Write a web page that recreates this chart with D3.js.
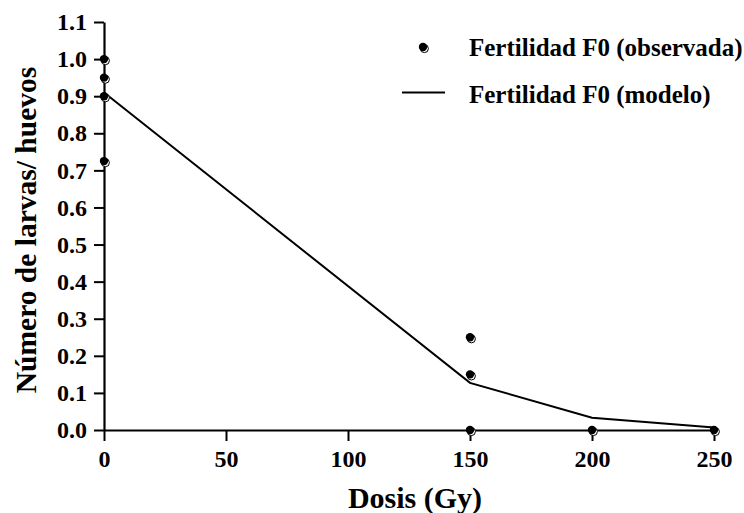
<!DOCTYPE html>
<html>
<head>
<meta charset="utf-8">
<script src="https://cdn.jsdelivr.net/npm/d3@7"></script>
<style>
  html, body { margin: 0; padding: 0; background: #fff; }
</style>
</head>
<body>
<svg id="chart" width="744" height="513"></svg>
<script>
// Observed fertility (larvae / eggs) per dose
const obsDose  = [0, 0, 0, 0, 150, 150, 150, 200, 250];
const obsValue = [1.0, 0.95, 0.9, 0.725, 0.25, 0.15, 0.0, 0.0, 0.0];

// Model curve
const modelDose  = [0, 150, 200, 250];
const modelValue = [0.91, 0.127, 0.033, 0.007];

const xTicks = [0, 50, 100, 150, 200, 250];
const yTicks = [0.0, 0.1, 0.2, 0.3, 0.4, 0.5, 0.6, 0.7, 0.8, 0.9, 1.0, 1.1];

const seriesNames = ["Fertilidad F0 (observada)", "Fertilidad F0 (modelo)"];

const FONT = "'Liberation Serif', 'Times New Roman', serif";

const svg = d3.select("#chart");
const x = d3.scaleLinear().domain([0, 250]).range([104, 714]);
const y = d3.scaleLinear().domain([0, 1.1]).range([430, 22]);

function styleText(sel, size) {
  sel.style("font-family", FONT).style("font-weight", "bold")
     .style("font-size", size + "px").attr("fill", "#000");
}

// Axes
const xAxis = d3.axisBottom(x).tickValues(xTicks).tickFormat(d3.format("d")).tickSize(11).tickSizeOuter(0);
const gx = svg.append("g").attr("transform", "translate(0,430)").call(xAxis);
gx.select(".domain").attr("stroke-width", 2.2);
gx.selectAll(".tick line").attr("stroke-width", 2);
gx.selectAll(".tick text").call(styleText, 24).attr("y", 37).attr("dy", 0);

const yAxis = d3.axisLeft(y).tickValues(yTicks).tickFormat(d3.format(".1f")).tickSize(10).tickSizeOuter(0);
const gy = svg.append("g").attr("transform", "translate(104,0)").call(yAxis);
gy.select(".domain").attr("stroke-width", 2.2);
gy.selectAll(".tick line").attr("stroke-width", 2);
gy.selectAll(".tick text").call(styleText, 24).attr("x", -17).attr("dy", "0.32em");

// Axis titles
svg.append("text").attr("x", 415).attr("y", 508).attr("text-anchor", "middle")
  .call(styleText, 30).text("Dosis (Gy)");
svg.append("text").attr("transform", "translate(36,230) rotate(-90)").attr("text-anchor", "middle")
  .call(styleText, 29.5).text("Número de larvas/ huevos");

// Model line
const line = d3.line().x(d => x(d[0])).y(d => y(d[1]));
svg.append("path").datum(d3.zip(modelDose, modelValue))
  .attr("d", line).attr("fill", "none").attr("stroke", "#000").attr("stroke-width", 2);

// Observed markers: filled dot with an offset outline ring
function marker(g, cx, cy) {
  g.append("circle").attr("cx", cx + 1.4).attr("cy", cy + 1.6).attr("r", 4)
    .attr("fill", "#fff").attr("stroke", "#000").attr("stroke-width", 1);
  g.append("circle").attr("cx", cx).attr("cy", cy).attr("r", 4.2).attr("fill", "#000");
}
const pts = svg.append("g");
d3.zip(obsDose, obsValue).forEach(d => marker(pts, x(d[0]), y(d[1])));

// Legend
const leg = svg.append("g");
marker(leg, 423, 47);
leg.append("text").attr("x", 469).attr("y", 56).call(styleText, 25).text(seriesNames[0]);
leg.append("line").attr("x1", 402).attr("x2", 445).attr("y1", 92.5).attr("y2", 92.5)
  .attr("stroke", "#000").attr("stroke-width", 2);
leg.append("text").attr("x", 469).attr("y", 102.5).call(styleText, 25).text(seriesNames[1]);
</script>
</body>
</html>
